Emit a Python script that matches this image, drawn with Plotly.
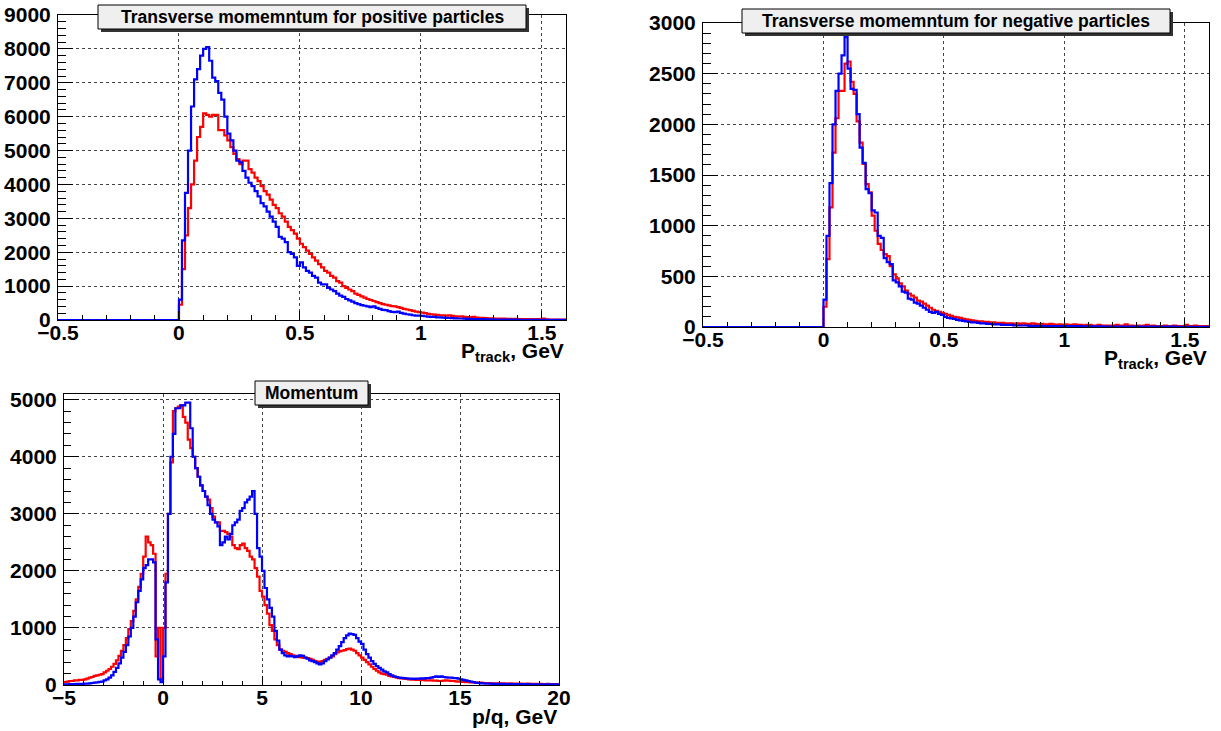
import numpy as np
import plotly.graph_objects as go

# ---------------------------------------------------------------------------
# Histogram contents
# ---------------------------------------------------------------------------
# Transverse momentum histograms: 168 bins of 0.0125 GeV from -0.5 to 1.6 GeV.
# The 40 bins below zero are empty.
PT_LOW, PT_WIDTH = -0.5, 0.0125

pt_pos_red = [0] * 40 + [
    450, 1500, 2500, 3300, 4000, 4700, 5400, 5700,
    6100, 6050, 6000, 6050, 6050, 5600, 5600, 5450,
    5300, 5100, 4900, 4750, 4600, 4700, 4700, 4450,
    4350, 4200, 4100, 3950, 3800, 3700, 3550, 3400,
    3300, 3150, 3050, 2900, 2750, 2650, 2550, 2400,
    2250, 2150, 2050, 1950, 1850, 1750, 1650, 1550,
    1450, 1400, 1300, 1250, 1150, 1100, 1000, 950,
    900, 850, 780, 740, 700, 660, 620, 590,
    560, 530, 500, 470, 450, 430, 410, 400,
    380, 360, 330, 310, 290, 270, 250, 230,
    220, 200, 180, 170, 160, 150, 140, 135,
    130, 140, 120, 110, 100, 110, 95, 85,
    80, 90, 70, 65, 60, 55, 50, 50,
    45, 45, 40, 40, 35, 35, 30, 35,
    30, 25, 30, 25, 25, 20, 25, 20,
    45, 20, 15, 15, 15, 15, 10, 10,
]
pt_pos_blue = [0] * 40 + [
    600, 2350, 3750, 5000, 6300, 7100, 7400, 7800,
    8000, 8050, 7650, 7150, 7050, 6700, 6500, 6000,
    5500, 5300, 5000, 4700, 4650, 4400, 4200, 4050,
    3950, 3800, 3650, 3450, 3350, 3200, 3050, 2900,
    2750, 2450, 2400, 2300, 2000, 1950, 1850, 1600,
    1700, 1550, 1450, 1400, 1300, 1250, 1100, 1050,
    1050, 950, 900, 850, 780, 720, 680, 620,
    580, 540, 500, 470, 440, 420, 400, 380,
    400, 360, 330, 300, 290, 260, 240, 230,
    250, 210, 190, 170, 160, 140, 130, 130,
    120, 110, 100, 95, 90, 80, 75, 70,
    65, 60, 55, 50, 45, 45, 40, 35,
    35, 30, 30, 25, 25, 20, 20, 20,
    15, 15, 15, 12, 12, 10, 10, 10,
    8, 8, 8, 6, 6, 6, 5, 5,
    5, 5, 4, 4, 4, 3, 3, 3,
]
pt_neg_red = [0] * 40 + [
    200, 670, 1180, 1720, 2060, 2330, 2330, 2600,
    2620, 2420, 2300, 2030, 1820, 1610, 1410, 1330,
    1100, 950, 820, 760, 720, 700, 600, 520,
    480, 430, 400, 360, 330, 310, 290, 260,
    250, 230, 210, 190, 170, 160, 150, 140,
    130, 120, 110, 100, 95, 90, 80, 75,
    70, 65, 60, 55, 55, 50, 50, 45,
    45, 40, 40, 40, 35, 35, 35, 30,
    35, 30, 35, 30, 30, 35, 30, 25,
    30, 25, 25, 30, 25, 20, 25, 20,
    25, 20, 20, 25, 20, 20, 15, 20,
    20, 15, 15, 20, 15, 15, 15, 15,
    15, 20, 15, 15, 25, 15, 15, 10,
    15, 10, 15, 20, 10, 15, 10, 10,
    10, 15, 10, 10, 15, 10, 10, 10,
    20, 10, 10, 15, 10, 10, 10, 10,
]
pt_neg_blue = [0] * 40 + [
    270, 900, 1420, 2000, 2330, 2500, 2680, 2860,
    2550, 2350, 2340, 2100, 1770, 1620, 1360, 1320,
    1150, 1130, 900, 880, 680, 640, 620, 460,
    440, 400, 350, 340, 280, 270, 240, 230,
    210, 190, 170, 150, 140, 150, 130, 120,
    100, 90, 85, 80, 70, 65, 60, 55,
    50, 45, 45, 40, 35, 35, 30, 30,
    25, 25, 25, 20, 20, 20, 20, 15,
    15, 15, 15, 15, 12, 12, 12, 12,
    12, 10, 10, 10, 10, 10, 10, 8,
    8, 8, 8, 8, 8, 8, 6, 6,
    6, 6, 6, 6, 6, 5, 5, 5,
    5, 5, 5, 5, 4, 4, 4, 4,
    4, 4, 4, 4, 3, 3, 3, 3,
    3, 3, 3, 3, 3, 2, 2, 2,
    2, 2, 2, 2, 2, 2, 2, 2,
]

# Momentum over charge: 200 bins of 0.125 GeV from -5 to 20 GeV.
P_LOW, P_WIDTH = -5.0, 0.125

p_red = [
    50, 60, 70, 70, 80, 80, 90, 90,
    100, 110, 130, 140, 160, 170, 180, 190,
    220, 250, 280, 320, 370, 430, 510, 600,
    700, 820, 980, 1120, 1300, 1500, 1720, 1950,
    2250, 2600, 2500, 2450, 2300, 500, 1000, 100,
    1000, 1950, 3000, 3900, 4800, 4850, 4880, 4900,
    4700, 4600, 4300, 4150, 4000, 3800, 3650, 3500,
    3400, 3300, 3250, 3100, 2950, 2850, 2850, 2700,
    2700, 2680, 2650, 2600, 2450, 2400, 2380, 2450,
    2480, 2400, 2350, 2250, 2200, 2050, 1900, 1650,
    1550, 1400, 1250, 1050, 950, 800, 700, 620,
    600, 580, 560, 540, 520, 510, 500, 490,
    480, 480, 470, 460, 440, 420, 410, 400,
    420, 440, 460, 480, 500, 540, 570, 590,
    600, 610, 630, 640, 620, 600, 560, 520,
    480, 440, 400, 360, 320, 280, 250, 220,
    200, 190, 180, 160, 150, 140, 130, 120,
    115, 110, 105, 100, 95, 95, 90, 90,
    85, 85, 80, 80, 80, 75, 75, 70,
    70, 75, 80, 75, 70, 70, 65, 60,
    60, 55, 50, 50, 45, 45, 40, 40,
    40, 35, 35, 35, 30, 30, 30, 30,
    30, 30, 25, 25, 30, 25, 25, 20,
    25, 20, 20, 25, 20, 20, 20, 15,
    20, 15, 15, 20, 15, 15, 10, 15,
]
p_blue = [
    10, 10, 15, 15, 15, 20, 20, 20,
    25, 25, 30, 35, 40, 45, 55, 60,
    80, 100, 130, 170, 230, 300, 380, 480,
    580, 700, 850, 1000, 1200, 1450, 1650, 1850,
    2050, 2100, 2200, 2200, 2150, 800, 100, 50,
    500, 1800, 3000, 4000, 4400, 4850, 4850, 4900,
    4900, 4950, 4950, 4500, 4000, 3800, 3650, 3500,
    3400, 3300, 3150, 3000, 2900, 2850, 2780, 2450,
    2500, 2600, 2550, 2650, 2800, 2850, 2900, 3050,
    3100, 3200, 3250, 3300, 3400, 3000, 2400, 2250,
    2000, 1700, 1500, 1350, 1200, 950, 780, 620,
    560, 520, 500, 510, 500, 490, 500, 520,
    510, 480, 460, 430, 420, 400, 380, 360,
    380, 420, 450, 480, 520, 560, 620, 680,
    750, 820, 870, 900, 890, 880, 820, 760,
    720, 620, 540, 480, 420, 370, 330, 300,
    270, 240, 220, 190, 170, 150, 140, 130,
    125, 120, 115, 110, 110, 105, 110, 110,
    115, 110, 120, 120, 130, 140, 150, 140,
    150, 140, 135, 130, 130, 120, 120, 110,
    100, 90, 80, 70, 60, 50, 40, 35,
    30, 30, 25, 25, 25, 20, 20, 20,
    20, 20, 20, 15, 15, 15, 15, 15,
    15, 15, 15, 15, 10, 10, 10, 10,
    10, 10, 10, 10, 10, 10, 10, 10,
]

titles = [
    "Transverse momemntum for positive particles",
    "Transverse momemntum for negative particles",
    "Momentum",
]
x_titles = ["P<sub>track</sub>, GeV", "P<sub>track</sub>, GeV", "p/q, GeV"]

# ---------------------------------------------------------------------------
W, H = 1221, 731
FONT = "Liberation Sans"
RED, BLUE = "#ff0000", "#0000ff"

# pad frames in pixels: (left, right, top, bottom)
frames = [(58, 566, 15, 320), (703, 1209, 23, 327), (64, 559, 394, 685)]
x_ranges = [(-0.5, 1.6), (-0.5, 1.6), (-5, 20)]
y_ranges = [(0, 9000), (0, 3000), (0, 5100)]
x_major = [0.5, 0.5, 5]
x_minor = [0.1, 0.1, 1]
y_major = [1000, 500, 1000]
y_minor = [200, 100, 200]
title_box_top = [5, 9, 381]
title_box_width = [428, 428, 113]
x_title_centre = [352, 359, 716]


def step_xy(low, width, counts):
    edges = low + width * np.arange(len(counts) + 1)
    return edges, list(counts) + [counts[-1]]


fig = go.Figure()

series = [
    (PT_LOW, PT_WIDTH, pt_pos_red, pt_pos_blue),
    (PT_LOW, PT_WIDTH, pt_neg_red, pt_neg_blue),
    (P_LOW, P_WIDTH, p_red, p_blue),
]
for i, (low, width, red, blue) in enumerate(series):
    ax = "" if i == 0 else str(i + 1)
    for counts, colour in ((red, RED), (blue, BLUE)):
        xs, ys = step_xy(low, width, counts)
        fig.add_trace(go.Scatter(
            x=xs, y=ys, mode="lines", line_shape="hv",
            line=dict(color=colour, width=2.2),
            xaxis="x" + ax, yaxis="y" + ax, showlegend=False,
            hoverinfo="skip",
        ))

tick_font = dict(family=FONT, size=21, color="black", weight="bold")
layout = dict(
    width=W, height=H, autosize=False,
    margin=dict(l=0, r=0, t=0, b=0, pad=0),
    paper_bgcolor="white", plot_bgcolor="white",
    showlegend=False,
)
shapes, annotations = [], []
for i, (l, r, t, b) in enumerate(frames):
    ax = "" if i == 0 else str(i + 1)
    common = dict(
        showline=True, linecolor="black", linewidth=1, mirror=True,
        zeroline=False, showgrid=True, gridcolor="#444444", gridwidth=1,
        griddash="dot", ticks="inside", tickcolor="black", tickwidth=1,
        tickfont=tick_font, layer="above traces", automargin=False,
    )
    fig_w = r - l
    fig_h = b - t
    layout["xaxis" + ax] = dict(
        common, domain=[l / W, r / W], range=list(x_ranges[i]),
        anchor="y" + ax, tick0=0, dtick=x_major[i], ticklen=0.03 * fig_h,
        minor=dict(dtick=x_minor[i], tick0=0, ticks="inside",
                   ticklen=0.015 * fig_h, tickcolor="black", showgrid=False),
        ticklabelstandoff=-6,
    )
    layout["yaxis" + ax] = dict(
        common, domain=[1 - b / H, 1 - t / H], range=list(y_ranges[i]),
        anchor="x" + ax, tick0=0, dtick=y_major[i], ticklen=0.03 * fig_w,
        minor=dict(dtick=y_minor[i], tick0=0, ticks="inside",
                   ticklen=0.015 * fig_w, tickcolor="black", showgrid=False),
        tickformat="d", ticklabelstandoff=2,
    )

    # title box with drop shadow, centred over the frame
    bw = title_box_width[i]
    bh = 24
    cx = (l + r) / 2
    top = title_box_top[i]
    x0, x1 = cx - bw / 2, cx + bw / 2
    y0, y1 = top, top + bh
    shapes.append(dict(type="rect", xref="paper", yref="paper",
                       x0=(x0 + 3) / W, x1=(x1 + 3) / W,
                       y0=1 - (y1 + 3) / H, y1=1 - (y0 + 3) / H,
                       fillcolor="#333333", line=dict(width=0), layer="above"))
    shapes.append(dict(type="rect", xref="paper", yref="paper",
                       x0=x0 / W, x1=x1 / W, y0=1 - y1 / H, y1=1 - y0 / H,
                       fillcolor="#efefef", line=dict(color="black", width=1),
                       layer="above"))
    annotations.append(dict(
        text=titles[i], xref="paper", yref="paper", x=cx / W,
        y=1 - (top + bh / 2) / H, xanchor="center", yanchor="middle",
        showarrow=False,
        font=dict(family=FONT, size=17.5, color="black", weight="bold"),
    ))
    # axis title, right-aligned under the frame
    annotations.append(dict(
        text=x_titles[i], xref="paper", yref="paper", x=r / W,
        y=1 - x_title_centre[i] / H, xanchor="right", yanchor="middle",
        showarrow=False,
        font=dict(family=FONT, size=21, color="black", weight="bold"),
    ))

layout["shapes"] = shapes
layout["annotations"] = annotations
fig.update_layout(**layout)
fig.write_html("out.html")
